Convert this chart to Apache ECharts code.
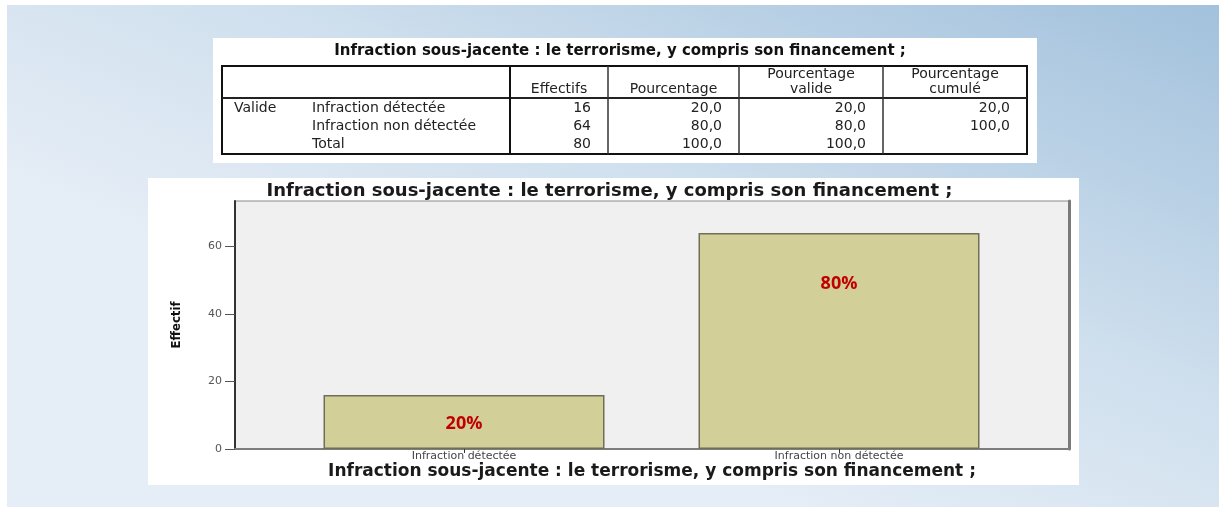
<!DOCTYPE html>
<html>
<head>
<meta charset="utf-8">
<script src="https://cdn.jsdelivr.net/npm/echarts@6/dist/echarts.min.js"></script>
<style>
html,body{margin:0;padding:0;background:#fff;}
#c{width:1219px;height:507px;}
</style>
</head>
<body>
<div id="c"></div>
<script>
// ---- Data ----
const chartTitle = 'Infraction sous-jacente : le terrorisme, y compris son financement ;';
const categories = ['Infraction détectée', 'Infraction non détectée'];
const counts = [16, 64];
const percents = [20, 80];
const yAxisName = 'Effectif';

// Frequency table (SPSS output)
const tableHeaders = ['Effectifs', 'Pourcentage', 'Pourcentage\nvalide', 'Pourcentage\ncumulé'];
const tableGroup = 'Valide';
const tableRowLabels = ['Infraction détectée', 'Infraction non détectée', 'Total'];
const colEffectifs = ['16', '64', '80'];
const colPourcentage = ['20,0', '80,0', '100,0'];
const colValide = ['20,0', '80,0', '100,0'];
const colCumule = ['20,0', '100,0', ''];

// ---- Layout ----
const tbl = { left: 222, right: 1027, top: 66, headBottom: 98, bottom: 154 };
const colLines = [510, 608, 739, 883];
const rowY = [108, 126, 144];
const tableFont = '14px "DejaVu Sans", sans-serif';

const graphics = [];
// slide background
graphics.push({
  type: 'rect', z: -100, silent: true,
  shape: { x: 7, y: 5, width: 1212, height: 502 },
  style: { fill: { type: 'linear', x: 1, y: 0, x2: 0.80, y2: 1.15,
    colorStops: [{ offset: 0, color: '#a2c1dc' }, { offset: 0.6, color: '#d0e0ee' }, { offset: 1, color: '#e5edf6' }] } }
});
// white panels
graphics.push({ type: 'rect', z: -90, silent: true, shape: { x: 213, y: 38, width: 824, height: 125 }, style: { fill: '#ffffff' } });
graphics.push({ type: 'rect', z: -90, silent: true, shape: { x: 148, y: 178, width: 931, height: 307 }, style: { fill: '#ffffff' } });

// table title
graphics.push({ type: 'text', z: 10, style: { text: chartTitle, x: 620, y: 51, font: 'bold 15px "DejaVu Sans", sans-serif', fill: '#111', textAlign: 'center', textVerticalAlign: 'middle' } });
// table frame
graphics.push({ type: 'rect', z: 10, shape: { x: tbl.left, y: tbl.top, width: tbl.right - tbl.left, height: tbl.bottom - tbl.top }, style: { fill: null, stroke: '#111', lineWidth: 2 } });
graphics.push({ type: 'line', z: 10, shape: { x1: tbl.left, y1: tbl.headBottom, x2: tbl.right, y2: tbl.headBottom }, style: { stroke: '#222', lineWidth: 2 } });
colLines.forEach((x, i) => {
  graphics.push({ type: 'line', z: 10, shape: { x1: x, y1: tbl.top, x2: x, y2: tbl.bottom }, style: { stroke: i === 0 ? '#111' : '#333', lineWidth: i === 0 ? 2 : 1.5 } });
});
// headers
const colEdges = colLines.concat([tbl.right]);
tableHeaders.forEach((h, i) => {
  const cx = (colEdges[i] + colEdges[i + 1]) / 2;
  graphics.push({ type: 'text', z: 10, style: { text: h, x: cx, y: 97, font: tableFont, fill: '#222', textAlign: 'center', textVerticalAlign: 'bottom', lineHeight: 15 } });
});
// rows
graphics.push({ type: 'text', z: 10, style: { text: tableGroup, x: 234, y: rowY[0], font: tableFont, fill: '#222', textAlign: 'left', textVerticalAlign: 'middle' } });
tableRowLabels.forEach((lab, r) => {
  graphics.push({ type: 'text', z: 10, style: { text: lab, x: 312, y: rowY[r], font: tableFont, fill: '#222', textAlign: 'left', textVerticalAlign: 'middle' } });
});
[colEffectifs, colPourcentage, colValide, colCumule].forEach((col, c) => {
  col.forEach((v, r) => {
    graphics.push({ type: 'text', z: 10, style: { text: v, x: colEdges[c + 1] - 17, y: rowY[r], font: tableFont, fill: '#222', textAlign: 'right', textVerticalAlign: 'middle' } });
  });
});

const chart = echarts.init(document.getElementById('c'), null, { renderer: 'canvas' });
chart.setOption({
  backgroundColor: '#ffffff',
  animation: false,
  title: {
    text: chartTitle, left: 'center', top: 182, padding: 0,
    textStyle: { fontFamily: '"DejaVu Sans", sans-serif', fontWeight: 'bold', fontSize: 18, color: '#1a1a1a' }
  },
  graphic: { elements: graphics },
  grid: {
    left: 235, right: 150, top: 201, bottom: 58,
    show: true, backgroundColor: '#f0f0f0', borderColor: '#8a8a8a', borderWidth: 1
  },
  xAxis: {
    type: 'value', min: -0.6107, max: 1.6133,
    name: chartTitle, nameLocation: 'middle', nameGap: 13,
    nameTextStyle: { fontFamily: '"DejaVu Sans", sans-serif', fontWeight: 'bold', fontSize: 17, color: '#1a1a1a' },
    axisLine: { show: true, onZero: false, lineStyle: { color: '#7d7d7d', width: 2 } },
    axisTick: { show: true, customValues: [0, 1], length: 4, lineStyle: { color: '#333' } },
    axisLabel: { customValues: [0, 1], margin: 2, formatter: v => categories[Math.round(v)] || '',
      fontFamily: '"DejaVu Sans", sans-serif', fontSize: 11, color: '#444' },
    splitLine: { show: false }
  },
  yAxis: [{
    type: 'value', min: 0, max: 73.5, interval: 20,
    name: yAxisName, nameLocation: 'middle', nameGap: 52, nameRotate: 90,
    nameTextStyle: { fontFamily: '"Liberation Sans Narrow", "DejaVu Sans Condensed", sans-serif', fontWeight: 'bold', fontSize: 13, color: '#111' },
    axisLine: { show: true, onZero: false, lineStyle: { color: '#333', width: 2 } },
    axisTick: { show: true, length: 10, lineStyle: { color: '#555' } },
    axisLabel: { margin: 13, fontFamily: '"DejaVu Sans", sans-serif', fontSize: 11, color: '#555',
      showMaxLabel: false },
    splitLine: { show: false }
  }, {
    type: 'value', min: 0, max: 73.5, position: 'right',
    axisLine: { show: true, onZero: false, lineStyle: { color: '#7a7a7a', width: 3 } },
    axisTick: { show: false }, axisLabel: { show: false }, splitLine: { show: false }
  }],
  series: [{
    type: 'bar',
    barWidth: 281,
    data: counts.map((v, i) => ({
      value: [i, v],
      label: i === 0 ? { position: 'inside', offset: [0, 2] } : { position: 'insideTop', distance: 42 }
    })),
    itemStyle: { color: '#d3cf98', borderColor: '#6f6f58', borderWidth: 1.5 },
    label: {
      show: true,
      formatter: p => percents[p.dataIndex] + '%',
      fontFamily: '"Open Sans", sans-serif', fontWeight: 'bold', fontSize: 18, color: '#c00000'
    }
  }]
});
</script>
</body>
</html>
